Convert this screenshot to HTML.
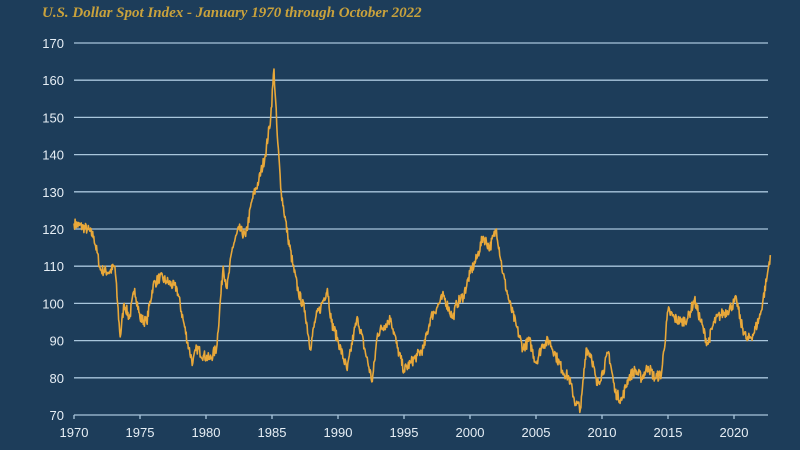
<!DOCTYPE html>
<html><head><meta charset="utf-8"><style>
html,body{margin:0;padding:0;background:#1d3d5a;}
svg{display:block}
</style></head><body>
<svg id="s" width="800" height="450" xmlns="http://www.w3.org/2000/svg">
<rect width="800" height="450" fill="#1d3d5a"/>
<text x="42" y="17" font-family="Liberation Serif, serif" font-style="italic" font-weight="bold" font-size="15" fill="#c9a23c">U.S. Dollar Spot Index - January 1970 through October 2022</text>
<g id="grid" stroke="#a9c6dc" stroke-width="1.3"></g>
<g id="yl" font-family="Liberation Sans, sans-serif" font-size="13" fill="#e6eef5" text-anchor="end"></g>
<g id="xl" font-family="Liberation Sans, sans-serif" font-size="13" fill="#e6eef5" text-anchor="middle"></g>
<polyline id="line" fill="none" stroke="#e8a83a" stroke-width="1.6" stroke-linejoin="round"/>
</svg>
<script>
var X=function(y){return 74+(y-1970)*13.2};
var Y=function(v){return 415-(v-70)*3.72};
var ns="http://www.w3.org/2000/svg";
function el(t,a,p,txt){var e=document.createElementNS(ns,t);for(var k in a)e.setAttribute(k,a[k]);if(txt)e.textContent=txt;p.appendChild(e);return e;}
var g=document.getElementById('grid'),yl=document.getElementById('yl'),xl=document.getElementById('xl');
for(var v=70;v<=170;v+=10){el('line',{x1:74,x2:768,y1:Y(v),y2:Y(v)},g);el('text',{x:64,y:Y(v)+5},yl,String(v));}
for(var yr=1970;yr<=2020;yr+=5){el('line',{x1:X(yr),x2:X(yr),y1:415,y2:419},g);el('text',{x:X(yr),y:437},xl,String(yr));}
var k=[[1970,121.5],[1971,120],[1971.5,118],[1972,109],[1972.7,108.5],[1973.1,110],[1973.3,100],[1973.5,91],[1973.8,100],[1974.2,96],[1974.6,104],[1975,96],[1975.5,95],[1976,105],[1976.5,107],[1977,106],[1977.8,104],[1978.3,95],[1978.7,88],[1979,84],[1979.3,88],[1979.8,86],[1980.3,85],[1980.8,88],[1981.3,110],[1981.6,104],[1982,115],[1982.5,120],[1983,118],[1983.5,128],[1984,133],[1984.5,140],[1984.9,150],[1985.15,163],[1985.4,145],[1985.7,130],[1986.2,118],[1986.6,110],[1987,103],[1987.5,98],[1987.9,88],[1988.3,96],[1988.7,99],[1989.2,104],[1989.5,95],[1990,90],[1990.7,82],[1991.2,92],[1991.5,96],[1992,88],[1992.6,79],[1993,92],[1993.5,94],[1994,96],[1994.5,88],[1995,82],[1995.5,84],[1996,86],[1996.5,88],[1997,96],[1997.5,99],[1998,102],[1998.7,96],[1999,100],[1999.5,102],[2000,108],[2000.5,112],[2001,118],[2001.5,115],[2002,120],[2002.5,108],[2003,100],[2003.5,94],[2004,88],[2004.5,90],[2005,84],[2005.5,89],[2006,90],[2006.5,86],[2007,82],[2007.5,80],[2008,73],[2008.4,72],[2008.8,88],[2009.2,86],[2009.6,78],[2010.1,82],[2010.5,87],[2011,76],[2011.5,74],[2012,80],[2012.5,82],[2013,80],[2013.5,83],[2014,80],[2014.5,81],[2015,98],[2015.5,96],[2016,95],[2016.5,96],[2017,101],[2017.5,95],[2018,89],[2018.5,95],[2019,97],[2019.5,98],[2020.2,101],[2020.5,95],[2021,90],[2021.5,92],[2022,97],[2022.5,107],[2022.75,113]];
var seed=7;function r(){seed=(seed*16807)%2147483647;return seed/2147483647-0.5;}
var pts=[];
for(var i=0;i<k.length-1;i++){var a=k[i],b=k[i+1];var n=Math.max(2,Math.round((b[0]-a[0])*24));
for(var j=0;j<n;j++){var t=j/n;var yv=a[1]+(b[1]-a[1])*t+(j?r()*3:0);pts.push(X(a[0]+(b[0]-a[0])*t).toFixed(1)+','+Y(yv).toFixed(1));}}
pts.push(X(2022.75)+','+Y(113));
document.getElementById('line').setAttribute('points',pts.join(' '));
</script>
</body></html>
